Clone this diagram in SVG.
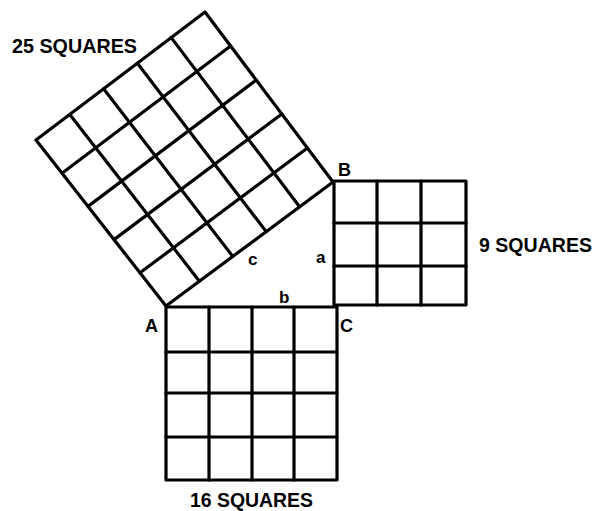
<svg xmlns="http://www.w3.org/2000/svg" width="599" height="511" viewBox="0 0 599 511">
<style>
.g{fill:none;stroke:#000;stroke-width:3.2;stroke-linecap:round;stroke-linejoin:round}
.t{font-family:"Liberation Sans",Arial,sans-serif;font-weight:bold;fill:#000}
.big{font-size:21px}
.pt{font-size:18px}
.sm{font-size:17px}
</style>
<rect width="599" height="511" fill="#fff"/>
<g id="sq25">
<polygon class="g" points="166,306 333,182 205,12 36,140"/>
<path class="g" d="M140,272.8 L307.4,148 M114,239.6 L281.8,114 M88,206.4 L256.2,80 M62,173.2 L230.6,46
M199.4,281.2 L69.8,114.4 M232.8,256.4 L103.6,88.8 M266.2,231.6 L137.4,63.2 M299.6,206.8 L171.2,37.6"/>
</g>
<g id="sq9">
<polygon class="g" points="334,181 466,181 466,305 334,305"/>
<path class="g" d="M377,181 L377,305 M421,181 L421,305 M334,223 L466,223 M334,266 L466,266"/>
</g>
<g id="sq16">
<polygon class="g" points="166,307 337,307 337,480 166,480"/>
<path class="g" d="M209,307 L209,480 M252,307 L252,480 M294,307 L294,480 M166,352 L337,352 M166,393 L337,393 M166,437 L337,437"/>
</g>
<g id="labels">
<text class="t big" x="12" y="53" textLength="125" lengthAdjust="spacingAndGlyphs">25 SQUARES</text>
<text class="t big" x="479" y="252" textLength="113" lengthAdjust="spacingAndGlyphs">9 SQUARES</text>
<text class="t big" x="190" y="507" textLength="123" lengthAdjust="spacingAndGlyphs">16 SQUARES</text>
<text class="t pt" x="145" y="332">A</text>
<text class="t pt" x="338" y="176">B</text>
<text class="t pt" x="340" y="332">C</text>
<text class="t sm" x="279" y="303">b</text>
<text class="t sm" x="248" y="265">c</text>
<text class="t sm" x="316" y="263">a</text>
</g>
</svg>
